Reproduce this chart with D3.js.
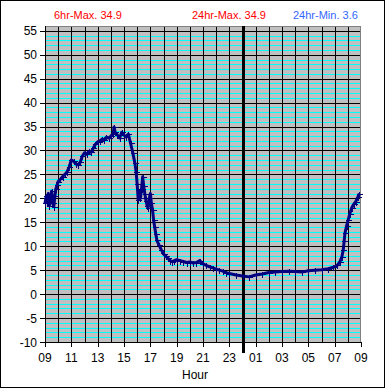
<!DOCTYPE html>
<html>
<head>
<meta charset="utf-8">
<script src="https://cdn.jsdelivr.net/npm/d3@7"></script>
<style>
  body { margin: 0; background: #fff; }
  svg { display: block; font-family: "Liberation Sans", Arial, sans-serif; }
</style>
</head>
<body>
<div id="chart"></div>
<script>
// Temperature over 24 hours, 09:00 to 09:00

// hours since 09:00 and the reading at that time
const hourOffsets = [0, 0.1, 0.17, 0.25, 0.33, 0.42, 0.5, 0.58, 0.67, 0.75, 0.83, 0.92, 1, 1.17, 1.33, 1.5, 1.67, 1.83,
  2, 2.17, 2.33, 2.5, 2.67, 2.83, 3, 3.17, 3.33, 3.5, 3.67, 3.83, 4, 4.17, 4.33, 4.5, 4.67, 4.83, 5, 5.17, 5.25, 5.33,
  5.5, 5.67, 5.83, 6, 6.17, 6.33, 6.5, 6.67, 6.83, 6.92, 7, 7.08, 7.17, 7.25, 7.33, 7.42, 7.5, 7.58, 7.67, 7.75, 7.83,
  7.92, 8, 8.08, 8.17, 8.25, 8.33, 8.42, 8.5, 8.67, 8.83, 9, 9.17, 9.33, 9.5, 9.67, 9.83, 10, 10.25, 10.5, 10.75, 11,
  11.25, 11.5, 11.75, 12, 12.25, 12.5, 12.75, 13, 13.25, 13.5, 13.75, 14, 14.5, 15, 15.5, 16, 16.5, 17, 17.5, 18, 18.5,
  19, 19.5, 20, 20.5, 21, 21.5, 21.9, 22.2, 22.4, 22.55, 22.65, 22.72, 22.78, 22.9, 23.03, 23.15, 23.29, 23.45, 23.6,
  23.75, 23.87]
const temps = [19.0, 20.5, 19.2, 21.0, 18.5, 20.0, 21.5, 19.0, 18.3, 20.5, 22.0, 22.8, 23.5, 24.0, 24.5, 25.0, 25.5, 26.5,
  28.0, 27.8, 27.2, 27.0, 27.5, 28.8, 29.5, 29.2, 29.8, 29.6, 30.5, 31.3, 31.8, 32.0, 32.4, 32.2, 32.8, 32.6, 33.0, 33.5, 34.9, 33.8,
  33.2, 32.6, 33.8, 33.2, 32.8, 33.4, 31.5, 29.5, 27.3, 25.5, 23.0, 19.7, 21.5, 20.0, 22.0, 24.5, 22.5, 21.0, 19.5, 18.5, 18.0,
  20.0, 21.0, 19.0, 17.5, 15.5, 14.0, 12.5, 11.2, 10.2, 9.3, 8.4, 7.9, 7.5, 7.0, 6.8, 7.0, 7.2, 7.0, 6.8, 6.6, 6.7,
  6.5, 6.6, 7.0, 6.3, 6.0, 5.7, 5.5, 5.2, 5.0, 4.8, 4.5, 4.3, 4.0, 3.8, 3.6, 4.0, 4.2, 4.5, 4.6, 4.7, 4.8,
  4.7, 4.6, 4.9, 5.0, 5.1, 5.3, 5.6, 6.0, 6.8, 7.8, 9.2, 11.0, 12.7, 14.2, 15.5, 16.8, 18.0, 18.8, 19.3,
  20.2, 21.0]

const xTickLabels = ['09', '11', '13', '15', '17', '19', '21', '23', '01', '03', '05', '07', '09']
const yTicks = [-10, -5, 0, 5, 10, 15, 20, 25, 30, 35, 40, 45, 50, 55]
const headerTexts = ['6hr-Max. 34.9', '24hr-Max. 34.9', '24hr-Min. 3.6']
const headerColors = ['#ff0000', '#ff0000', '#3366ff']

var width = 385
var height = 388
var plot = { left: 45, right: 361, top: 26, bottom: 342 }

const xScale = d3.scaleLinear().domain([0, 24]).range([plot.left, plot.right])
const yScale = d3.scaleLinear().domain([-10, 56]).range([plot.bottom, plot.top])

var svg = d3.select('#chart')
  .append('svg')
  .attr('width', width)
  .attr('height', height)

// outer frame
svg.append('rect')
  .attr('x', 0.5).attr('y', 0.5)
  .attr('width', width - 1).attr('height', height - 1)
  .attr('fill', '#fff').attr('stroke', '#000')

// plot background
svg.append('rect')
  .attr('x', plot.left).attr('y', plot.top)
  .attr('width', plot.right - plot.left).attr('height', plot.bottom - plot.top)
  .attr('fill', '#c0c0c0')

const snap = v => Math.round(v) + 0.5

// minor horizontal lines every degree
const minor = d3.range(-9, 56).filter(v => v % 5 !== 0)
svg.append('g')
  .selectAll('line')
  .data(minor)
  .enter()
  .append('line')
  .attr('x1', plot.left).attr('x2', plot.right)
  .attr('y1', d => snap(yScale(d))).attr('y2', d => snap(yScale(d)))
  .attr('stroke', '#00ffff')
  .attr('shape-rendering', 'crispEdges')

// major horizontal lines
svg.append('g')
  .selectAll('line')
  .data(yTicks.filter(d => d > -10))
  .enter()
  .append('line')
  .attr('x1', plot.left - 5).attr('x2', plot.right)
  .attr('y1', d => snap(yScale(d))).attr('y2', d => snap(yScale(d)))
  .attr('stroke', '#000')
  .attr('shape-rendering', 'crispEdges')

// hourly vertical lines
svg.append('g')
  .selectAll('line')
  .data(d3.range(1, 24).filter(h => h !== 15))
  .enter()
  .append('line')
  .attr('x1', d => snap(xScale(d))).attr('x2', d => snap(xScale(d)))
  .attr('y1', plot.top).attr('y2', d => d % 2 === 0 ? plot.bottom + 5 : plot.bottom)
  .attr('stroke', '#000')
  .attr('shape-rendering', 'crispEdges')

// plot border (top & right grey)
svg.append('path')
  .attr('d', `M${plot.left},${plot.top + 0.5}H${plot.right - 0.5}V${plot.bottom}`)
  .attr('fill', 'none').attr('stroke', '#808080')
  .attr('shape-rendering', 'crispEdges')

// axes
svg.append('line')
  .attr('x1', plot.left + 0.5).attr('x2', plot.left + 0.5)
  .attr('y1', plot.top).attr('y2', plot.bottom + 5)
  .attr('stroke', '#000').attr('shape-rendering', 'crispEdges')
svg.append('line')
  .attr('x1', plot.left - 5).attr('x2', plot.right)
  .attr('y1', plot.bottom + 0.5).attr('y2', plot.bottom + 0.5)
  .attr('stroke', '#000').attr('shape-rendering', 'crispEdges')
svg.append('line')
  .attr('x1', snap(xScale(24))).attr('x2', snap(xScale(24)))
  .attr('y1', plot.bottom).attr('y2', plot.bottom + 5)
  .attr('stroke', '#000').attr('shape-rendering', 'crispEdges')

// midnight marker
svg.append('line')
  .attr('x1', snap(xScale(15))).attr('x2', snap(xScale(15)))
  .attr('y1', plot.top).attr('y2', plot.bottom + 11)
  .attr('stroke', '#000').attr('stroke-width', 3)
  .attr('shape-rendering', 'crispEdges')

// y labels
svg.append('g')
  .selectAll('text')
  .data(yTicks)
  .enter()
  .append('text')
  .attr('x', 37)
  .attr('y', d => yScale(d) + 4.5)
  .attr('text-anchor', 'end')
  .attr('font-size', 12)
  .text(d => d)

// x labels
svg.append('g')
  .selectAll('text')
  .data(xTickLabels)
  .enter()
  .append('text')
  .attr('x', (d, i) => xScale(i * 2))
  .attr('y', 362)
  .attr('text-anchor', 'middle')
  .attr('font-size', 12)
  .text(d => d)

svg.append('text')
  .text('Hour')
  .attr('x', 195).attr('y', 379)
  .attr('text-anchor', 'middle')
  .attr('font-size', 12)

// header values
const headerX = [54, 192, 293]
svg.append('g')
  .selectAll('text')
  .data(headerTexts)
  .enter()
  .append('text')
  .attr('x', (d, i) => headerX[i])
  .attr('y', 19)
  .attr('font-size', 11)
  .attr('fill', (d, i) => headerColors[i])
  .text(d => d)

// data line and markers
const points = hourOffsets.map((h, i) => ({ h: h, t: temps[i] }))
const line = d3.line().x(d => xScale(d.h)).y(d => yScale(d.t))

svg.append('path')
  .datum(points)
  .attr('d', line)
  .attr('fill', 'none')
  .attr('stroke', '#000080')
  .attr('stroke-width', 3)
  .attr('stroke-linejoin', 'round')

svg.append('g')
  .selectAll('path')
  .data(points)
  .enter()
  .append('path')
  .attr('d', d => {
    const x = Math.round(xScale(d.h)) + 0.5, y = Math.round(yScale(d.t)) + 0.5
    return `M${x - 3},${y}H${x + 3}M${x},${y - 3}V${y + 3}`
  })
  .attr('stroke', '#000080')
  .attr('stroke-width', 1)
  .attr('shape-rendering', 'crispEdges')
</script>
</body>
</html>
